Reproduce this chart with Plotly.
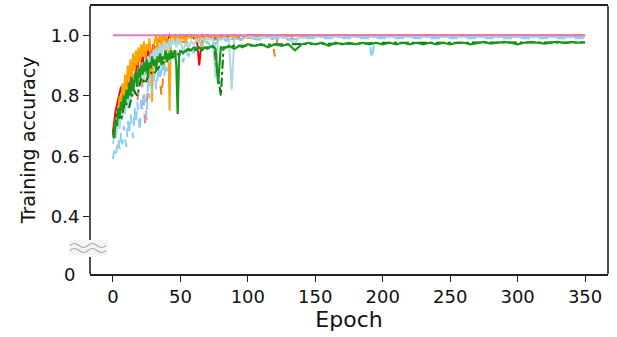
import plotly.graph_objects as go

# ---------------- data ----------------
pink_x = [0, 350]
pink_y = [1.0, 1.0]

red_x = [0, 2, 4, 6, 8, 10, 12, 14, 16, 18, 20, 22, 24, 26, 28, 30, 32, 34, 36, 38, 40, 42, 44, 46, 48, 50,
         52, 54, 56, 58, 60, 62, 64, 66, 68, 70, 75, 80, 85, 90, 95, 100, 350]
red_y = [0.68, 0.75, 0.79, 0.83, 0.81, 0.86, 0.82, 0.88, 0.84, 0.92, 0.87, 0.93, 0.89, 0.95, 0.92, 0.97, 0.95,
         0.99, 0.97, 1.0, 0.98, 1.0, 0.99, 1.0, 0.985, 1.0, 0.99, 1.0, 0.995, 1.0, 0.99, 1.0, 0.90, 1.0, 0.995,
         1.0, 0.99, 1.0, 0.995, 1.0, 0.985, 1.0, 1.0]

salmon_x = [0, 3, 6, 9, 12, 15, 18, 21, 24, 27, 30, 33, 36, 40, 45, 50, 60, 70, 80, 350]
salmon_y = [0.66, 0.70, 0.74, 0.80, 0.78, 0.84, 0.78, 0.88, 0.70, 0.90, 0.94, 0.92, 0.96, 0.98, 0.97, 0.99,
            0.995, 0.99, 0.998, 0.998]

orange_x = list(range(0, 51)) + [52, 54, 56, 58, 60, 62, 64, 66, 68, 70, 75, 80, 85, 90, 95, 100, 110, 350]
orange_y = [0.67, 0.70, 0.72, 0.69, 0.76, 0.80, 0.74, 0.84, 0.79, 0.87, 0.82, 0.90, 0.85, 0.92, 0.86, 0.94,
            0.88, 0.95, 0.90, 0.96, 0.91, 0.97, 0.93, 0.98, 0.92, 0.97, 0.95, 0.99, 0.94, 0.78, 0.96, 0.98,
            1.0, 0.95, 0.99, 1.0, 0.96, 1.0, 0.97, 1.0, 0.99, 0.98, 0.75, 1.0, 0.99, 1.0, 0.98, 1.0, 0.97, 1.0,
            0.99,
            1.0, 0.98, 1.0, 0.99, 1.0, 0.985, 1.0, 0.96, 1.0, 0.99, 1.0, 0.99, 1.0, 0.995, 1.0, 0.99, 1.0, 1.0]

dorange_x = [0, 3, 6, 9, 12, 15, 18, 21, 24, 27, 30, 33, 36, 39, 42, 45, 50, 55, 60, 65, 70, 75, 80, 85, 90,
             95, 100, 105, 110, 115, 118, 120, 122, 126, 130, 133, 136, 140, 150, 350]
dorange_y = [0.66, 0.70, 0.76, 0.82, 0.80, 0.86, 0.84, 0.90, 0.87, 0.92, 0.90, 0.94, 0.80, 0.95, 0.96, 0.97,
             0.98, 0.975, 0.985, 0.98, 0.99, 0.985, 0.99, 0.985, 0.99, 0.995, 0.99, 0.995, 0.99, 0.995, 0.995,
             0.93, 0.99, 0.995, 0.985, 0.99, 0.98, 0.995, 0.995, 0.995]

skyblue_x = list(range(0, 51)) + [52, 54, 56, 58, 60, 62, 64, 66, 68, 70, 72, 74, 76, 78, 80, 82, 84, 86, 88,
                                  90, 95, 100, 110, 120, 130, 140, 150, 160, 170, 180, 190, 192, 194, 200, 350]
skyblue_y = [0.59, 0.62, 0.60, 0.64, 0.66, 0.62, 0.68, 0.64, 0.70, 0.66, 0.63, 0.72, 0.67, 0.74, 0.70, 0.66,
             0.76, 0.71, 0.78, 0.73, 0.68, 0.80, 0.75, 0.82, 0.77, 0.72, 0.84, 0.79, 0.86, 0.81, 0.84, 0.88,
             0.82, 0.87, 0.90, 0.85, 0.89, 0.92, 0.86, 0.91, 0.88, 0.93, 0.90, 0.94, 0.91, 0.95, 0.92, 0.94,
             0.96, 0.93, 0.95,
             0.91, 0.95, 0.93, 0.96, 0.94, 0.97, 0.95, 0.975, 0.96, 0.98, 0.965, 0.985, 0.97, 0.985, 0.975,
             0.99, 0.98, 0.99, 0.975, 0.99, 0.985, 0.99, 0.985, 0.99, 0.985, 0.99, 0.99, 0.99, 0.99, 0.99,
             0.99, 0.92, 0.99, 0.99, 0.99]

lblue_x = list(range(0, 51)) + [52, 54, 56, 58, 60, 62, 64, 66, 68, 70, 72, 74, 76, 78, 80, 82, 84, 86, 88,
                                90, 95, 100, 110, 120, 130, 135, 137, 150, 200, 350]
lblue_y = [0.64, 0.68, 0.66, 0.70, 0.73, 0.69, 0.75, 0.72, 0.78, 0.74, 0.80, 0.76, 0.83, 0.78, 0.85, 0.80,
           0.87, 0.83, 0.88, 0.84, 0.90, 0.86, 0.91, 0.85, 0.92, 0.88, 0.93, 0.89, 0.94, 0.90, 0.95, 0.91,
           0.96, 0.92, 0.95, 0.97, 0.93, 0.96, 0.98, 0.94, 0.97, 0.95, 0.98, 0.96, 0.99, 0.97, 0.98, 0.96,
           0.99, 0.97, 0.98,
           0.95, 0.975, 0.96, 0.98, 0.97, 0.985, 0.975, 0.99, 0.98, 0.99, 0.985, 0.99, 0.86, 0.99, 0.985,
           0.99, 0.985, 0.99, 0.82, 0.99, 0.985, 0.995, 0.99, 0.995, 0.99, 0.97, 0.99, 0.995, 0.995, 0.993]

green_x = list(range(0, 51)) + [52, 54, 56, 58, 60, 62, 64, 66, 68, 70, 72, 74, 76, 78, 80, 82, 84, 86, 88,
                                90, 92, 94, 96, 98, 100,
                                105, 110, 115, 120, 125, 130, 135, 140, 145, 150, 155, 160, 165, 170, 175,
                                180, 185, 190, 195, 200, 205, 210, 215, 220, 225, 230, 235, 240, 245, 250,
                                255, 260, 265, 270, 275, 280, 285, 290, 295, 300, 305, 310, 315, 320, 325,
                                330, 335, 340, 345, 350]
green_y = [0.68, 0.66, 0.72, 0.70, 0.76, 0.73, 0.78, 0.75, 0.80, 0.77, 0.82, 0.79, 0.84, 0.80, 0.86, 0.82,
           0.85, 0.88, 0.83, 0.89, 0.86, 0.90, 0.87, 0.91, 0.88, 0.92, 0.86, 0.91, 0.89, 0.93, 0.90, 0.92,
           0.88, 0.93, 0.91, 0.94, 0.90, 0.93, 0.92, 0.95, 0.91, 0.94, 0.92, 0.95, 0.93, 0.94, 0.95, 0.90,
           0.74, 0.93, 0.95,
           0.94, 0.95, 0.955, 0.95, 0.96, 0.955, 0.96, 0.95, 0.96, 0.955, 0.96, 0.965, 0.955, 0.84, 0.96,
           0.955, 0.96, 0.965, 0.96, 0.955, 0.96, 0.965, 0.96, 0.965, 0.97,
           0.965, 0.97, 0.96, 0.97, 0.965, 0.97, 0.95, 0.97, 0.975, 0.97, 0.975, 0.965, 0.975, 0.97, 0.975,
           0.97, 0.975, 0.97, 0.975, 0.97, 0.975, 0.97, 0.975, 0.97, 0.975, 0.97, 0.975, 0.97, 0.975, 0.97,
           0.975, 0.975, 0.97, 0.975, 0.978, 0.972, 0.975, 0.978, 0.975, 0.97, 0.975, 0.978, 0.975, 0.972,
           0.976, 0.978, 0.974, 0.978, 0.975, 0.977]

gdash_x = [0, 3, 6, 9, 12, 15, 18, 21, 24, 27, 30, 35, 40, 45, 50, 55, 60, 65, 70, 75, 80, 82, 85, 90, 100,
           120, 140, 160, 180, 200, 250, 300, 350]
gdash_y = [0.67, 0.74, 0.72, 0.78, 0.76, 0.82, 0.80, 0.86, 0.84, 0.88, 0.87, 0.90, 0.92, 0.93, 0.94, 0.95,
           0.95, 0.955, 0.96, 0.96, 0.80, 0.96, 0.96, 0.965, 0.965, 0.97, 0.97, 0.972, 0.972, 0.975, 0.975,
           0.976, 0.976]

y_ticks = [0.4, 0.6, 0.8, 1.0]
y_tick_text = ["0.4", "0.6", "0.8", "1.0"]
x_ticks = [0, 50, 100, 150, 200, 250, 300, 350]
Y_MIN, Y_MAX = 0.2106, 1.0965
X_MIN, X_MAX = -17.0, 367.0

# ---------------- figure ----------------
fig = go.Figure()
series = [
    (red_x, red_y, "#ff0000", "solid", 2),
    (salmon_x, salmon_y, "#fa8072", "dash", 2),
    (orange_x, orange_y, "#ffa500", "solid", 2),
    (dorange_x, dorange_y, "#ff7f0e", "dash", 2),
    (lblue_x, lblue_y, "#add8e6", "solid", 2),
    (skyblue_x, skyblue_y, "#87cefa", "dash", 2),
    (gdash_x, gdash_y, "#007a00", "dashdot", 2),
    (green_x, green_y, "#1a961a", "solid", 2.2),
    (pink_x, pink_y, "#e377c2", "solid", 2),
]
for xs, ys, col, dash, w in series:
    fig.add_trace(go.Scatter(x=xs, y=ys, mode="lines", line=dict(color=col, dash=dash, width=w),
                             showlegend=False, hoverinfo="skip"))

L, R, T, B = 90, 9, 6, 63
W, H = 617, 337
pw, ph = W - L - R, H - T - B


def px(xp):
    return (xp - L) / pw


def py(yp):
    return (H - B - yp) / ph


font = "DejaVu Sans"
fig.update_layout(
    width=W, height=H,
    margin=dict(l=L, r=R, t=T, b=B, autoexpand=False),
    plot_bgcolor="white", paper_bgcolor="white",
    font=dict(family=font, size=18, color="#111"),
    xaxis=dict(range=[X_MIN, X_MAX], tickvals=x_ticks, ticks="outside", ticklen=6, tickwidth=1.3,
               tickcolor="#222", showgrid=False, zeroline=False, showline=True, linecolor="#222",
               linewidth=1.6, mirror=True,
               title=dict(text="Epoch", font=dict(size=22, family=font, color="#111"), standoff=5)),
    yaxis=dict(range=[Y_MIN, Y_MAX], tickvals=y_ticks, ticktext=y_tick_text, ticks="outside", ticklen=6,
               tickwidth=1.3, tickcolor="#222", showgrid=False, zeroline=False, showline=False,
               title=dict(text="Training accuracy", font=dict(size=19, family=font, color="#111"),
                          standoff=10)),
)

# left spine, broken around the axis break
line = dict(color="#222", width=1.6)
fig.add_shape(type="line", xref="paper", yref="paper", x0=0, x1=0, y0=py(257), y1=0, line=line)
fig.add_shape(type="line", xref="paper", yref="paper", x0=0, x1=0, y0=py(241), y1=1, line=line)
fig.add_shape(type="line", xref="paper", yref="paper", x0=1, x1=1, y0=0, y1=1, line=line)

# axis-break marker
fig.add_shape(type="rect", xref="paper", yref="paper", x0=px(69), x1=px(108), y0=py(255), y1=py(240),
              fillcolor="#f2f5f2", line=dict(width=0), layer="above")
for yc in (245.5, 250.5):
    xs0 = [70, 74.5, 79, 83.5, 88, 92.5, 97, 101.5, 106]
    path = "M {:.5f},{:.5f}".format(px(xs0[0]), py(yc))
    for i in range(1, len(xs0), 2):
        sgn = -1 if (i // 2) % 2 == 0 else 1
        path += " Q {:.5f},{:.5f} {:.5f},{:.5f}".format(px(xs0[i]), py(yc + sgn * 4), px(xs0[i + 1]), py(yc))
    fig.add_shape(type="path", xref="paper", yref="paper", path=path,
                  line=dict(color="#aaa", width=1.1), layer="above")

# "0" label at the bottom of the broken axis
fig.add_annotation(text="0", xref="paper", yref="paper", x=px(77), y=0, xanchor="right", yanchor="middle",
                   showarrow=False, font=dict(size=18, family=font, color="#111"))

fig.write_html("out.html")
